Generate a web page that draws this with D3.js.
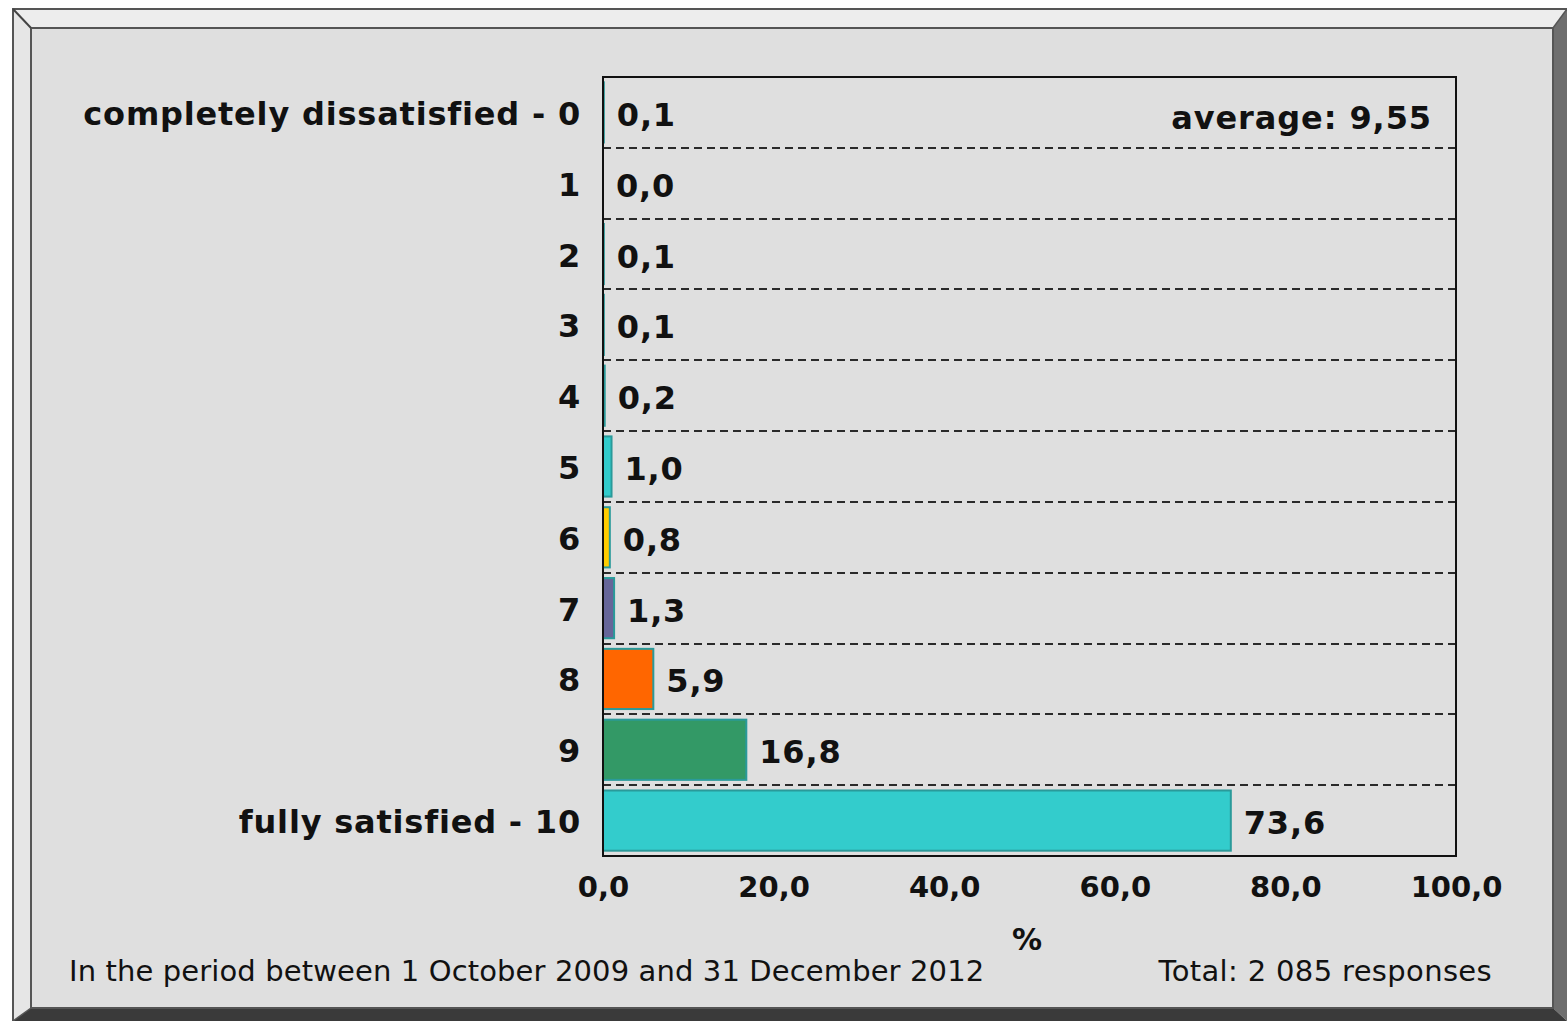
<!DOCTYPE html>
<html><head><meta charset="utf-8">
<script src="https://cdn.jsdelivr.net/npm/d3@7"></script>
<style>body{margin:0;background:#fff;}svg{display:block;}</style>
</head><body>
<script>
const categories = ["completely dissatisfied - 0","1","2","3","4","5","6","7","8","9","fully satisfied - 10"];
const values = [0.1,0.0,0.1,0.1,0.2,1.0,0.8,1.3,5.9,16.8,73.6];
const barColors = ["#33cccc","#33cccc","#33cccc","#33cccc","#339999","#33cccc","#ffcc00","#666699","#ff6600","#339966","#33cccc"];
const xTicks = [0,20,40,60,80,100];
const averageText = "average: 9,55";
const axisTitle = "%";
const footerLeft = "In the period between 1 October 2009 and 31 December 2012";
const footerRight = "Total: 2 085 responses";

const W = 1567, H = 1021;
const fmt = v => v.toFixed(1).replace(".", ",");
const svg = d3.select("body").append("svg").attr("width", W).attr("height", H);
const FONT = "'DejaVu Sans', Verdana, sans-serif";

// bevelled frame
const ox0 = 13, oy0 = 9, ox1 = 1567, oy1 = 1021;
const ix0 = 31, iy0 = 28, ix1 = 1553, iy1 = 1008;
const poly = pts => pts.map(p => p.join(",")).join(" ");
svg.append("polygon").attr("points", poly([[ox0,oy0],[ox1,oy0],[ix1,iy0],[ix0,iy0]])).attr("fill","#ededed");
svg.append("polygon").attr("points", poly([[ox0,oy0],[ix0,iy0],[ix0,iy1],[ox0,oy1]])).attr("fill","#e6e6e6");
svg.append("polygon").attr("points", poly([[ox1,oy0],[ox1,oy1],[ix1,iy1],[ix1,iy0]])).attr("fill","#6e6e6e");
svg.append("polygon").attr("points", poly([[ox0,oy1],[ix0,iy1],[ix1,iy1],[ox1,oy1]])).attr("fill","#3a3a3a");
svg.append("rect").attr("x",ix0).attr("y",iy0).attr("width",ix1-ix0).attr("height",iy1-iy0).attr("fill","#dfdfdf").attr("stroke","#555").attr("stroke-width",2);
svg.append("polyline").attr("points", poly([[ox0,oy1],[ox0,oy0],[ox1,oy0]])).attr("fill","none").attr("stroke","#555").attr("stroke-width",2);
svg.append("line").attr("x1",ox0).attr("y1",oy0).attr("x2",ix0).attr("y2",iy0).attr("stroke","#444").attr("stroke-width",2);
svg.append("line").attr("x1",ox1).attr("y1",oy0).attr("x2",ix1).attr("y2",iy0).attr("stroke","#555").attr("stroke-width",1.5);
svg.append("line").attr("x1",ox0).attr("y1",oy1).attr("x2",ix0).attr("y2",iy1).attr("stroke","#555").attr("stroke-width",1.5);

// plot
const pL = 603, pR = 1456, pT = 77, pB = 856;
const x = d3.scaleLinear().domain([0,100]).range([pL,pR]);
const y = d3.scaleBand().domain(categories).range([pT,pB]).paddingInner(0.15).paddingOuter(0.075);
const yb = d3.scaleBand().domain(categories).range([pT,pB]);

const g = svg.append("g");
// dashed separators
g.selectAll("line.sep").data(categories.slice(1)).join("line")
  .attr("x1",pL).attr("x2",pR)
  .attr("y1",d => Math.round(yb(d))).attr("y2",d => Math.round(yb(d)))
  .attr("stroke","#2a2a2a").attr("stroke-width",2).attr("stroke-dasharray","8,5");

// bars
g.selectAll("rect.bar").data(values).join("rect")
  .attr("x",x(0))
  .attr("y",(d,i) => y(categories[i]))
  .attr("width",d => Math.max(0, x(d)-x(0)))
  .attr("height",y.bandwidth())
  .attr("fill",(d,i) => barColors[i])
  .attr("stroke","#2a9a9a").attr("stroke-width",d => d > 0 ? 2 : 0);

// value labels
g.selectAll("text.val").data(values).join("text")
  .attr("x",d => x(d) + 13)
  .attr("y",(d,i) => yb(categories[i]) + yb.bandwidth()/2 + 2)
  .attr("dy","0.36em")
  .attr("font-family",FONT).attr("font-weight","bold").attr("font-size",32)
  .attr("letter-spacing","0.8px")
  .attr("fill","#111")
  .text(d => fmt(d));

// plot border
g.append("rect").attr("x",pL).attr("y",pT).attr("width",pR-pL).attr("height",pB-pT)
  .attr("fill","none").attr("stroke","#111").attr("stroke-width",2);

// category labels
g.selectAll("text.cat").data(categories).join("text")
  .attr("x",pL-22)
  .attr("y",d => yb(d) + yb.bandwidth()/2 + 1)
  .attr("dy","0.36em")
  .attr("text-anchor","end")
  .attr("font-family",FONT).attr("font-weight","bold").attr("font-size",32)
  .attr("letter-spacing","0.8px")
  .attr("fill","#111").text(d => d);

// x axis labels
const xAxis = d3.axisBottom(x).tickValues(xTicks).tickSize(0).tickPadding(0).tickFormat(d => fmt(d));
const ax = svg.append("g").attr("transform",`translate(0,${pB})`).call(xAxis);
ax.select(".domain").remove();
ax.selectAll("text").attr("y",41).attr("dy",0)
  .attr("font-family",FONT).attr("font-weight","bold").attr("font-size",29).attr("fill","#111");

svg.append("text").attr("x",1027).attr("y",950).attr("text-anchor","middle")
  .attr("font-family",FONT).attr("font-weight","bold").attr("font-size",30).attr("fill","#111").text(axisTitle);

svg.append("text").attr("x",1432).attr("y",129).attr("text-anchor","end")
  .attr("font-family",FONT).attr("font-weight","bold").attr("font-size",32)
  .attr("letter-spacing","0.9px").attr("fill","#111").text(averageText);

svg.append("text").attr("x",69).attr("y",981)
  .attr("font-family",FONT).attr("font-size",29).attr("letter-spacing","0.12px").attr("fill","#111").text(footerLeft);
svg.append("text").attr("x",1492).attr("y",981).attr("text-anchor","end")
  .attr("font-family",FONT).attr("font-size",29).attr("letter-spacing","0.35px").attr("fill","#111").text(footerRight);
</script>
</body></html>
